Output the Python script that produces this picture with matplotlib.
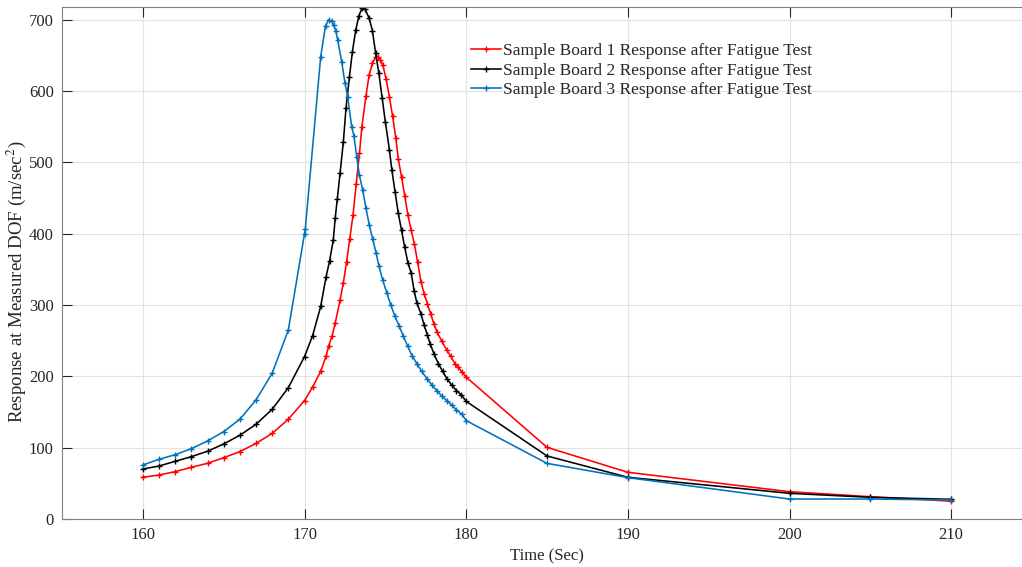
import matplotlib
matplotlib.use("Agg")
import matplotlib.pyplot as plt

plt.rcParams['font.family'] = ['Liberation Serif', 'DejaVu Serif']
plt.rcParams['mathtext.fontset'] = 'stix'

# ---- data ----
red_x = [160, 161, 162, 163, 164, 165, 166, 167, 168, 169, 170,
         170.5, 171.0, 171.33, 171.5, 171.7, 171.9, 172.2, 172.4, 172.6, 172.8,
         173.0, 173.2, 173.4, 173.55, 173.8, 174.0, 174.2, 174.4, 174.55, 174.7,
         174.85, 175.05, 175.25, 175.45, 175.65, 175.8, 176.0, 176.2, 176.4, 176.6,
         176.8, 177.0, 177.2, 177.4, 177.6, 177.8, 178.0, 178.2, 178.5, 178.8,
         179.05, 179.3, 179.5, 179.75, 180.0, 185, 190, 200, 205, 210]
red_y = [58.5, 61.7, 66.4, 72.5, 78.1, 86, 94.4, 106, 120, 140, 166,
         185, 207, 228, 243, 256, 275, 307, 331, 360, 393,
         426, 470, 513, 550, 593, 623, 639, 648, 648, 644,
         636, 617, 592, 565, 534, 505, 480, 453, 426, 405,
         385, 360, 333, 316, 302, 288, 274, 262, 249, 237,
         228, 218, 213, 206, 199, 100.5, 65.5, 38.3, 31.3, 25]

black_x = [160, 161, 162, 163, 164, 165, 166, 167, 168, 169, 170,
           170.5, 171.0, 171.33, 171.55, 171.78, 171.9, 172.03, 172.2, 172.4, 172.57,
           172.78, 172.96, 173.17, 173.37, 173.55, 173.75, 174.0, 174.2, 174.4, 174.6,
           174.8, 175.0, 175.25, 175.4, 175.6, 175.8, 176.0, 176.2, 176.4, 176.6,
           176.78, 176.95, 177.2, 177.4, 177.6, 177.77, 178.0, 178.28, 178.55, 178.8,
           179.1, 179.4, 179.7, 180.0, 185, 190, 200, 205, 210]
black_y = [70.1, 74.3, 80.9, 87.4, 95, 105.2, 117.4, 132.8, 153.8, 184.2, 227.7,
           257, 298, 339, 362, 391, 422, 449, 485, 528, 577,
           620, 655, 686, 706, 716, 715, 702, 685, 653, 625,
           591, 557, 518, 490, 459, 429, 405, 381, 359, 345,
           320, 303, 288, 272, 258, 246, 232, 218, 207, 197,
           188, 180, 174, 165, 88.4, 58.5, 36, 30.4, 27.6]

blue_x = [160, 161, 162, 163, 164, 165, 166, 167, 168, 169, 170, 170.05,
          171.0, 171.3, 171.5, 171.68, 171.8, 171.93, 172.05, 172.3, 172.5, 172.67,
          172.92, 173.06, 173.23, 173.39, 173.6, 173.8, 174.01, 174.22, 174.43, 174.6,
          174.84, 175.09, 175.34, 175.6, 175.87, 176.12, 176.39, 176.65, 176.95, 177.25,
          177.57, 177.88, 178.18, 178.5, 178.8, 179.1, 179.4, 179.73, 180.0,
          185, 190, 200, 205, 210]
blue_y = [75.7, 83.7, 90.2, 98.6, 109.4, 122.5, 139.8, 166.9, 204.4, 265, 400, 407,
          648, 692, 700, 698, 693, 685, 672, 641, 612, 592,
          550, 537, 508, 483, 461, 436, 412, 392, 373, 355,
          335, 317, 300, 284, 270, 256, 242, 229, 218, 207,
          197, 188, 180, 172.5, 166, 160, 153, 147, 138,
          78, 58, 28, 28, 26.7]

labels = ['Sample Board 1 Response after Fatigue Test',
          'Sample Board 2 Response after Fatigue Test',
          'Sample Board 3 Response after Fatigue Test']
xticks = [160, 170, 180, 190, 200, 210]
yticks = [0, 100, 200, 300, 400, 500, 600, 700]

W, H = 1022, 567
fig = plt.figure(figsize=(W / 100, H / 100), dpi=100)
ax = fig.add_axes([62 / W, (H - 519) / H, (1032 - 62) / W, (519 - 7) / H])

series = [(red_x, red_y, '#FF0000'), (black_x, black_y, '#000000'), (blue_x, blue_y, '#0072BD')]
for (xs, ys, c), lab in zip(series, labels):
    ax.plot(xs, ys, color=c, lw=1.15, marker='+', ms=4.2, mew=1.0, label=lab)

ax.set_xlim(155, 215)
ax.set_ylim(0, 718)
ax.set_xticks(xticks)
ax.set_yticks(yticks)
ax.grid(True, color='#e3e3e3', lw=0.8)
ax.set_axisbelow(True)
ax.tick_params(direction='in', length=7, width=0.8, color='#262626', labelcolor='#262626',
               labelsize=12, top=True, right=True, pad=6)
for s in ax.spines.values():
    s.set_color('#808080')
    s.set_linewidth(0.8)

ax.set_xlabel('Time (Sec)', fontsize=12, color='#262626', labelpad=4)
fig.text(16 / W, 1 - 282 / H, 'Response at Measured DOF (m/sec$^{2}$)', rotation=90,
         ha='center', va='center', fontsize=13.6, color='#262626')

leg = fig.legend(loc='upper left', bbox_to_anchor=(471 / W, 1 - 43 / H), frameon=False,
                 fontsize=12.5, handlelength=1.7, handletextpad=0.15, labelspacing=0.2,
                 borderpad=0, borderaxespad=0)
for t in leg.get_texts():
    t.set_color('#262626')

fig.savefig('out.png', dpi=100)
